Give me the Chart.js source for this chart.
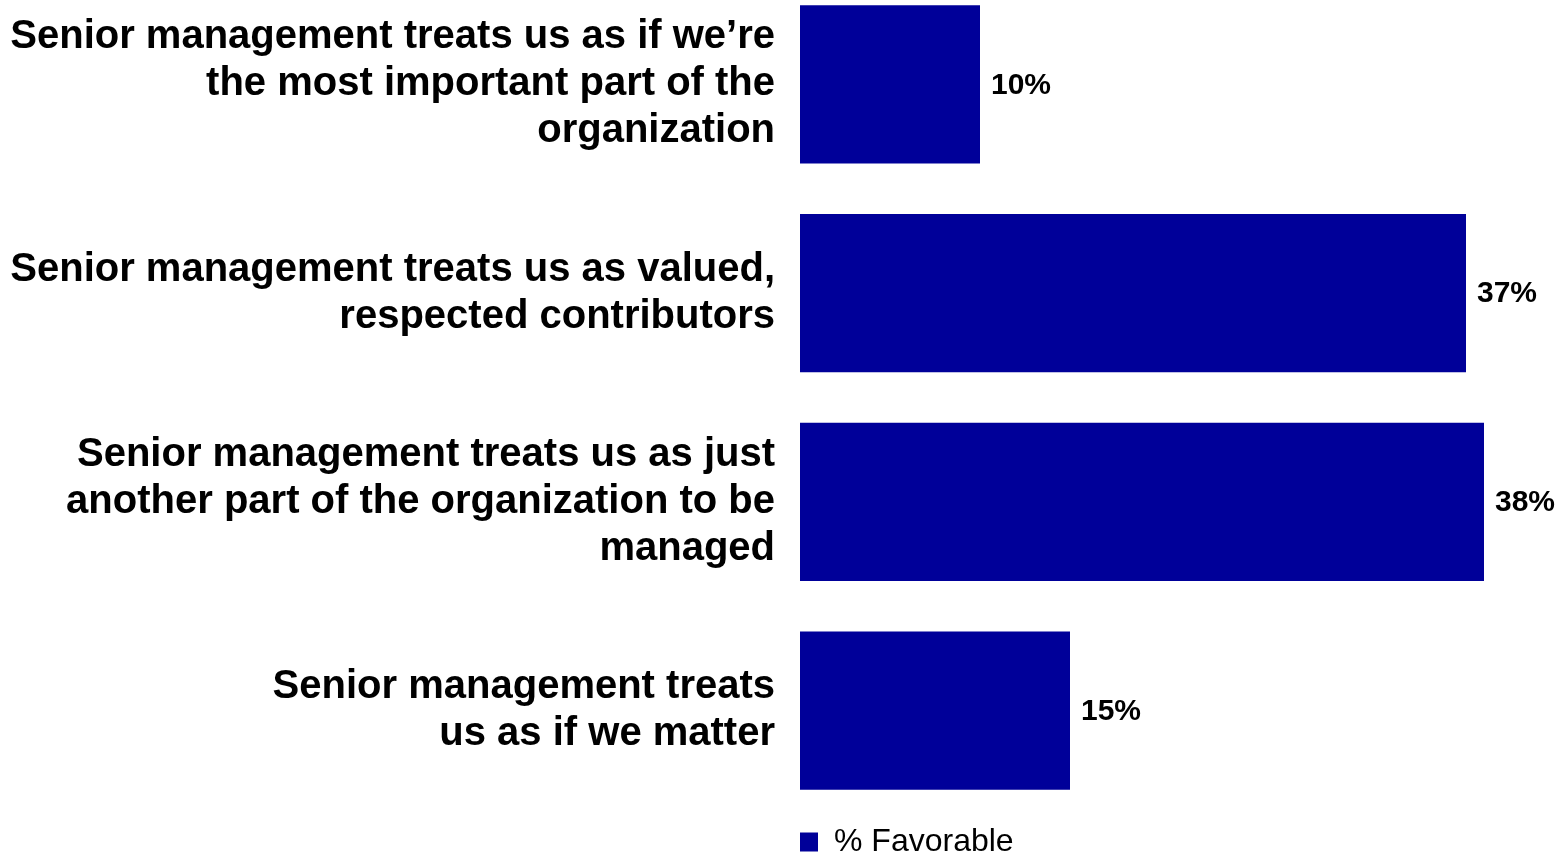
<!DOCTYPE html>
<html>
<head>
<meta charset="utf-8">
<script src="https://cdn.jsdelivr.net/npm/chart.js@4"></script>
<style>
  html, body { margin: 0; padding: 0; background: #fff; overflow: hidden; height: 856px; }
  /* the first category starts a little above the top edge, so the canvas is taller and shifted up */
  #wrap { position: absolute; left: 0; top: -20px; width: 1568px; height: 876px; }
</style>
</head>
<body>
<div id="wrap"><canvas id="barChart"></canvas></div>
<script>
// data
const categories = [
  ["Senior management treats us as if we\u2019re", "the most important part of the", "organization"],
  ["Senior management treats us as valued,", "respected contributors"],
  ["Senior management treats us as just", "another part of the organization to be", "managed"],
  ["Senior management treats", "us as if we matter"]
];
const favorable = [10, 37, 38, 15];
const seriesName = "% Favorable";
const barColor = "#000099";
const fontFamily = "'Liberation Sans', Arial, Helvetica, sans-serif";

// value labels at the end of each bar
const valueLabels = {
  id: "valueLabels",
  afterDatasetsDraw(chart) {
    const ctx = chart.ctx;
    const meta = chart.getDatasetMeta(0);
    ctx.save();
    ctx.font = "bold 30px " + fontFamily;
    ctx.fillStyle = "#000";
    ctx.textAlign = "left";
    ctx.textBaseline = "middle";
    meta.data.forEach((bar, i) => {
      ctx.fillText(favorable[i] + "%", bar.x + 11, bar.y + 1);
    });
    ctx.restore();
  }
};

// let the layout padding win over the scales' own padding
function loosePadding(scale) {
  scale.paddingTop = -200;
  scale.paddingBottom = -200;
}

const barChart = document.getElementById("barChart");

new Chart(barChart, {
  type: "bar",
  data: {
    labels: categories,
    datasets: [
      {
        label: seriesName,
        data: favorable,
        backgroundColor: barColor,
        categoryPercentage: 1,
        barPercentage: 0.757
      }
    ]
  },
  options: {
    indexAxis: "y",
    responsive: true,
    maintainAspectRatio: false,
    animation: false,
    layout: {
      padding: { top: 0, right: 12, left: 0, bottom: -12 }
    },
    scales: {
      x: {
        display: false,
        min: 0,
        max: 42,
        afterFit: loosePadding
      },
      y: {
        grid: { display: false },
        border: { display: false },
        ticks: {
          color: "#000",
          padding: 17,
          font: { family: fontFamily, size: 40, weight: "bold", lineHeight: 1.175 }
        },
        afterFit(scale) {
          scale.width = 800;
          loosePadding(scale);
        }
      }
    },
    plugins: {
      tooltip: { enabled: false },
      legend: {
        position: "bottom",
        align: "start",
        fullSize: false,
        // empty title only used as a spacer above the legend item
        title: {
          display: true,
          text: "",
          padding: 0,
          font: { size: 11, lineHeight: 1 }
        },
        labels: {
          color: "#000",
          boxWidth: 18,
          boxHeight: 19,
          padding: 0,
          font: { family: fontFamily, size: 32 }
        }
      }
    }
  },
  plugins: [valueLabels]
});
</script>
</body>
</html>
